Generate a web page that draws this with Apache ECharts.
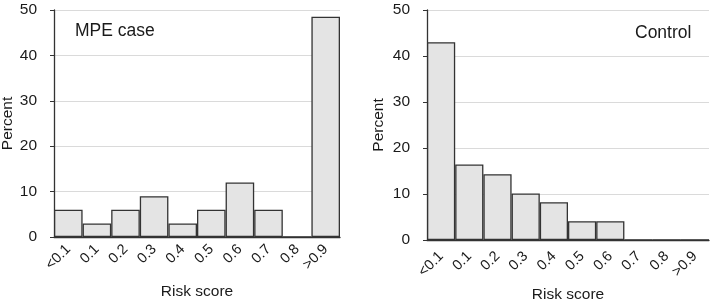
<!DOCTYPE html>
<html>
<head>
<meta charset="utf-8">
<script src="https://cdn.jsdelivr.net/npm/echarts@6/dist/echarts.min.js"></script>
<style>
  html, body { margin: 0; padding: 0; background: #fff; }
  #chart { width: 711px; height: 300px; }
</style>
</head>
<body>
<div id="chart"></div>
<script>
// risk score bins and percent per bin
const categories = ['<0.1', '0.1', '0.2', '0.3', '0.4', '0.5', '0.6', '0.7', '0.8', '>0.9']
const mpeCase = [6, 3, 6, 9, 3, 6, 12, 6, 0, 48.5]
const control = [43, 16.4, 14.3, 10.1, 8.2, 4.1, 4.1, 0, 0, 0]
const yTicks = { min: 0, max: 50, interval: 10 }

const font = 'Liberation Sans, Arial, sans-serif'
const textColor = '#1a1a1a'

function xAxisFor(idx, gap, labelMargin) {
  return {
    type: 'category',
    gridIndex: idx,
    data: categories,
    axisTick: { show: false },
    axisLine: { lineStyle: { color: '#333', width: 1.3 } },
    axisLabel: {
      rotate: 45,
      fontSize: 14.5,
      fontFamily: font,
      color: textColor,
      margin: labelMargin,
      interval: 0
    },
    name: 'Risk score',
    nameLocation: 'middle',
    nameGap: gap,
    nameTextStyle: { fontSize: 15.5, fontFamily: font, color: textColor }
  }
}

function yAxisFor(idx, gap) {
  return {
    type: 'value',
    gridIndex: idx,
    min: yTicks.min,
    max: yTicks.max,
    interval: yTicks.interval,
    axisLine: { show: true, lineStyle: { color: '#333', width: 1.3 } },
    axisTick: { show: true, length: 4, lineStyle: { color: '#333' } },
    axisLabel: { fontSize: 15.5, fontFamily: font, color: textColor, margin: 17 },
    splitLine: { lineStyle: { color: '#dadada', width: 1 } },
    name: 'Percent',
    nameLocation: 'middle',
    nameGap: gap,
    nameTextStyle: { fontSize: 15.5, fontFamily: font, color: textColor }
  }
}

function barSeries(idx, data) {
  return {
    type: 'bar',
    xAxisIndex: idx,
    yAxisIndex: idx,
    data: data,
    barWidth: '100%',
    itemStyle: { color: '#e4e4e4', borderColor: '#333', borderWidth: 1.3 },
    silent: true
  }
}

const myChart = echarts.init(document.getElementById('chart'))
const option = {
  animation: false,
  title: [
    { text: 'MPE case', left: 70, top: 17, textStyle: { fontSize: 17.5, fontWeight: 'normal', fontFamily: font, color: textColor } },
    { text: 'Control', left: 630, top: 19, textStyle: { fontSize: 17.5, fontWeight: 'normal', fontFamily: font, color: textColor } }
  ],
  grid: [
    { left: 54, top: 10, width: 286, height: 227, outerBoundsMode: 'none', containLabel: false },
    { left: 427, top: 10, width: 282, height: 230, outerBoundsMode: 'none', containLabel: false }
  ],
  xAxis: [xAxisFor(0, 47, 10), xAxisFor(1, 41, 14)],
  yAxis: [yAxisFor(0, 38), yAxisFor(1, 40)],
  series: [barSeries(0, mpeCase), barSeries(1, control)]
}
myChart.setOption(option)
</script>
</body>
</html>
